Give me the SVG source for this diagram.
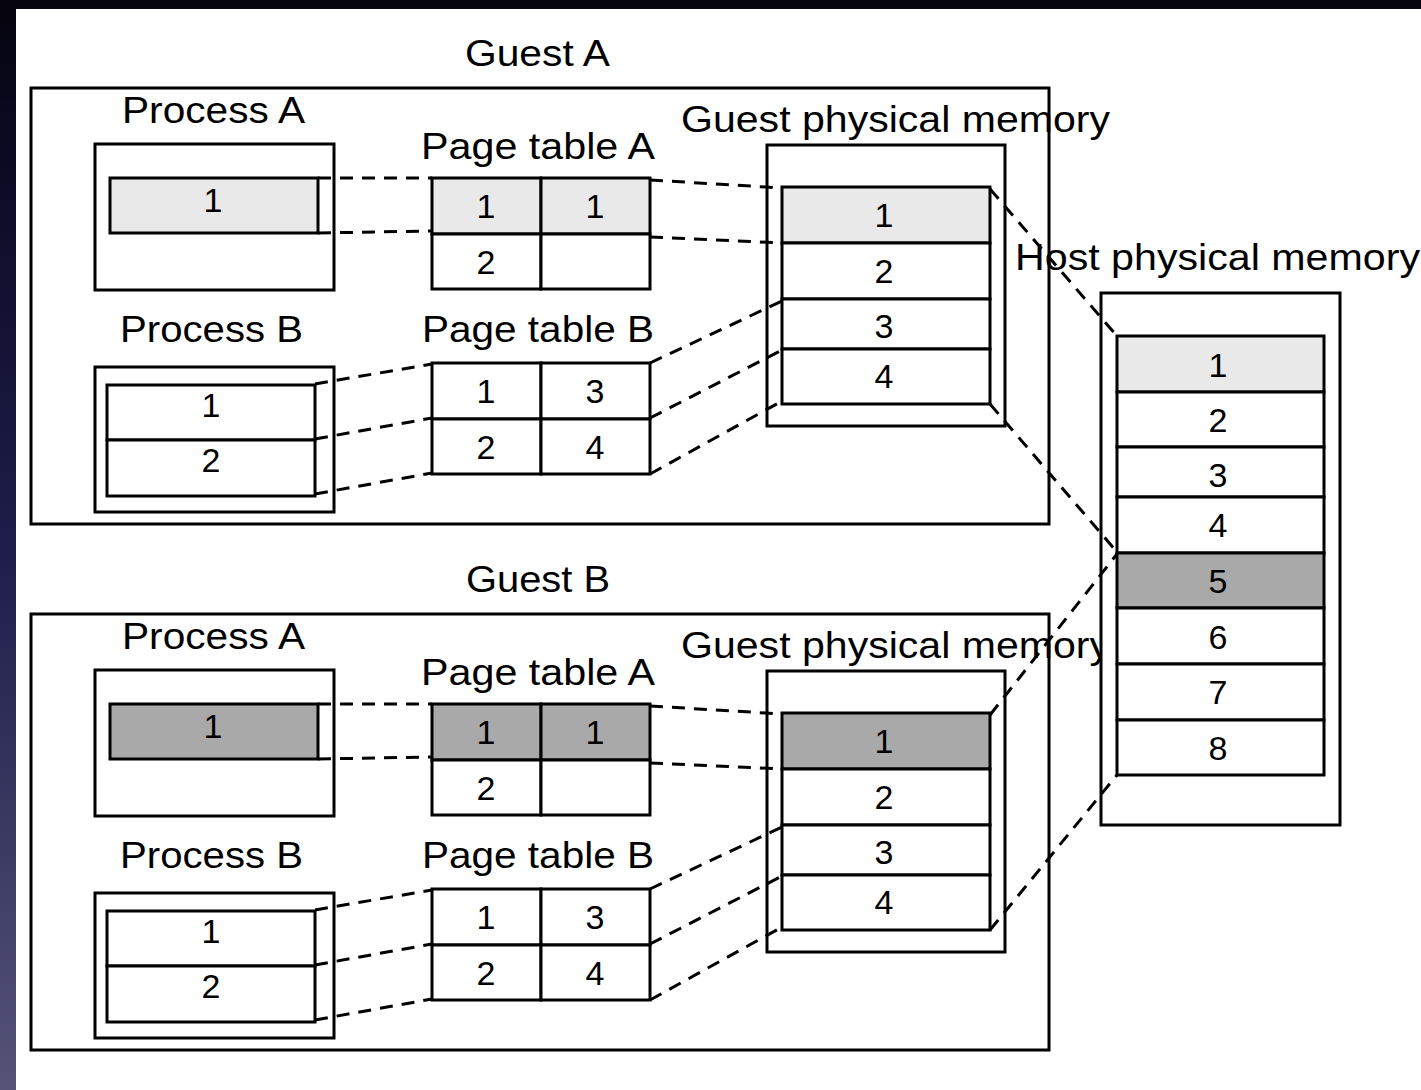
<svg xmlns="http://www.w3.org/2000/svg" width="1421" height="1090" viewBox="0 0 1421 1090">
  <defs>
    <linearGradient id="edge" x1="0" y1="0" x2="0" y2="1">
      <stop offset="0" stop-color="#05040d"/>
      <stop offset="0.12" stop-color="#0a0920"/>
      <stop offset="0.5" stop-color="#1e1d4a"/>
      <stop offset="1" stop-color="#555378"/>
    </linearGradient>
    <style>
      .box { fill: #ffffff; stroke: #000000; stroke-width: 3; }
      .frame { fill: none; stroke: #000000; stroke-width: 3; }
      .lt { fill: #e9e9e9; }
      .dk { fill: #a9a9a9; }
      .lbl { font-family: "Liberation Sans", Arial, sans-serif; font-size: 37px; fill: #000000; }
      .num { font-family: "Liberation Sans", Arial, sans-serif; font-size: 34px; fill: #000000; text-anchor: middle; }
      .dash { fill: none; stroke: #000000; stroke-width: 3; stroke-dasharray: 13 9; }
    </style>
  </defs>

  <!-- page backdrop with dark window edge -->
  <rect x="0" y="0" width="1421" height="1090" fill="#06050f"/>
  <rect x="0" y="0" width="16" height="1090" fill="url(#edge)"/>
  <rect x="16" y="9" width="1405" height="1081" fill="#ffffff"/>

  <!-- ===== Guest A ===== -->
  <g id="guest-a">
    <rect class="frame" x="31" y="88" width="1018" height="436"/>
    <text class="lbl" x="465" y="66" textLength="145" lengthAdjust="spacingAndGlyphs">Guest A</text>

    <g id="guest-a-process-a">
      <text class="lbl" x="122" y="123" textLength="183" lengthAdjust="spacingAndGlyphs">Process A</text>
      <rect class="box" x="95" y="144" width="239" height="146"/>
      <rect class="box lt" x="110" y="178" width="208" height="55"/>
      <text class="num" x="213" y="212">1</text>
    </g>

    <g id="guest-a-process-b">
      <text class="lbl" x="120" y="342" textLength="183" lengthAdjust="spacingAndGlyphs">Process B</text>
      <rect class="box" x="95" y="367" width="239" height="145"/>
      <rect class="box" x="107" y="385" width="208" height="55"/>
      <rect class="box" x="107" y="440" width="208" height="56"/>
      <text class="num" x="211" y="417">1</text>
      <text class="num" x="211" y="472">2</text>
    </g>

    <g id="guest-a-page-table-a">
      <text class="lbl" x="421" y="159" textLength="234" lengthAdjust="spacingAndGlyphs">Page table A</text>
      <rect class="box lt" x="432" y="178" width="109" height="56"/>
      <rect class="box lt" x="541" y="178" width="109" height="56"/>
      <rect class="box" x="432" y="234" width="109" height="55"/>
      <rect class="box" x="541" y="234" width="109" height="55"/>
      <text class="num" x="486" y="218">1</text>
      <text class="num" x="595" y="218">1</text>
      <text class="num" x="486" y="274">2</text>
    </g>

    <g id="guest-a-page-table-b">
      <text class="lbl" x="422" y="342" textLength="232" lengthAdjust="spacingAndGlyphs">Page table B</text>
      <rect class="box" x="432" y="363" width="109" height="56"/>
      <rect class="box" x="541" y="363" width="109" height="56"/>
      <rect class="box" x="432" y="419" width="109" height="55"/>
      <rect class="box" x="541" y="419" width="109" height="55"/>
      <text class="num" x="486" y="403">1</text>
      <text class="num" x="595" y="403">3</text>
      <text class="num" x="486" y="459">2</text>
      <text class="num" x="595" y="459">4</text>
    </g>

    <g id="guest-a-physical-memory">
      <text class="lbl" x="681" y="132" textLength="429" lengthAdjust="spacingAndGlyphs">Guest physical memory</text>
      <rect class="box" x="767" y="145" width="238" height="281"/>
      <rect class="box lt" x="782" y="187" width="208" height="56"/>
      <rect class="box" x="782" y="243" width="208" height="56"/>
      <rect class="box" x="782" y="299" width="208" height="50"/>
      <rect class="box" x="782" y="349" width="208" height="55"/>
      <text class="num" x="884" y="227">1</text>
      <text class="num" x="884" y="283">2</text>
      <text class="num" x="884" y="338">3</text>
      <text class="num" x="884" y="388">4</text>
    </g>
  </g>

  <!-- ===== Guest B (same layout, shifted down) ===== -->
  <g id="guest-b" transform="translate(0,526)">
    <rect class="frame" x="31" y="88" width="1018" height="436"/>
    <text class="lbl" x="466" y="66" textLength="144" lengthAdjust="spacingAndGlyphs">Guest B</text>

    <g id="guest-b-process-a">
      <text class="lbl" x="122" y="123" textLength="183" lengthAdjust="spacingAndGlyphs">Process A</text>
      <rect class="box" x="95" y="144" width="239" height="146"/>
      <rect class="box dk" x="110" y="178" width="208" height="55"/>
      <text class="num" x="213" y="212">1</text>
    </g>

    <g id="guest-b-process-b">
      <text class="lbl" x="120" y="342" textLength="183" lengthAdjust="spacingAndGlyphs">Process B</text>
      <rect class="box" x="95" y="367" width="239" height="145"/>
      <rect class="box" x="107" y="385" width="208" height="55"/>
      <rect class="box" x="107" y="440" width="208" height="56"/>
      <text class="num" x="211" y="417">1</text>
      <text class="num" x="211" y="472">2</text>
    </g>

    <g id="guest-b-page-table-a">
      <text class="lbl" x="421" y="159" textLength="234" lengthAdjust="spacingAndGlyphs">Page table A</text>
      <rect class="box dk" x="432" y="178" width="109" height="56"/>
      <rect class="box dk" x="541" y="178" width="109" height="56"/>
      <rect class="box" x="432" y="234" width="109" height="55"/>
      <rect class="box" x="541" y="234" width="109" height="55"/>
      <text class="num" x="486" y="218">1</text>
      <text class="num" x="595" y="218">1</text>
      <text class="num" x="486" y="274">2</text>
    </g>

    <g id="guest-b-page-table-b">
      <text class="lbl" x="422" y="342" textLength="232" lengthAdjust="spacingAndGlyphs">Page table B</text>
      <rect class="box" x="432" y="363" width="109" height="56"/>
      <rect class="box" x="541" y="363" width="109" height="56"/>
      <rect class="box" x="432" y="419" width="109" height="55"/>
      <rect class="box" x="541" y="419" width="109" height="55"/>
      <text class="num" x="486" y="403">1</text>
      <text class="num" x="595" y="403">3</text>
      <text class="num" x="486" y="459">2</text>
      <text class="num" x="595" y="459">4</text>
    </g>

    <g id="guest-b-physical-memory">
      <text class="lbl" x="681" y="132" textLength="429" lengthAdjust="spacingAndGlyphs">Guest physical memory</text>
      <rect class="box" x="767" y="145" width="238" height="281"/>
      <rect class="box dk" x="782" y="187" width="208" height="56"/>
      <rect class="box" x="782" y="243" width="208" height="56"/>
      <rect class="box" x="782" y="299" width="208" height="50"/>
      <rect class="box" x="782" y="349" width="208" height="55"/>
      <text class="num" x="884" y="227">1</text>
      <text class="num" x="884" y="283">2</text>
      <text class="num" x="884" y="338">3</text>
      <text class="num" x="884" y="388">4</text>
    </g>
  </g>

  <!-- ===== Host physical memory ===== -->
  <g id="host-physical-memory">
    <text class="lbl" x="1015" y="270" textLength="405" lengthAdjust="spacingAndGlyphs">Host physical memory</text>
    <rect class="box" x="1101" y="293" width="239" height="532"/>
    <rect class="box lt" x="1117" y="336" width="207" height="56"/>
    <rect class="box" x="1117" y="392" width="207" height="55"/>
    <rect class="box" x="1117" y="447" width="207" height="50"/>
    <rect class="box" x="1117" y="497" width="207" height="56"/>
    <rect class="box dk" x="1117" y="553" width="207" height="55"/>
    <rect class="box" x="1117" y="608" width="207" height="56"/>
    <rect class="box" x="1117" y="664" width="207" height="56"/>
    <rect class="box" x="1117" y="720" width="207" height="55"/>
    <text class="num" x="1218" y="377">1</text>
    <text class="num" x="1218" y="432">2</text>
    <text class="num" x="1218" y="487">3</text>
    <text class="num" x="1218" y="537">4</text>
    <text class="num" x="1218" y="593">5</text>
    <text class="num" x="1218" y="649">6</text>
    <text class="num" x="1218" y="704">7</text>
    <text class="num" x="1218" y="760">8</text>
  </g>

  <!-- ===== dashed mapping lines ===== -->
  <g id="connectors" class="dash">
    <!-- guest A: process A -> page table A -->
    <line x1="318" y1="178" x2="432" y2="178"/>
    <line x1="318" y1="233" x2="432" y2="231"/>
    <!-- guest A: page table A -> guest memory -->
    <line x1="650" y1="180" x2="782" y2="188"/>
    <line x1="650" y1="237" x2="782" y2="243"/>
    <!-- guest A: process B -> page table B -->
    <line x1="315" y1="384" x2="432" y2="364"/>
    <line x1="315" y1="439" x2="432" y2="418"/>
    <line x1="315" y1="494" x2="432" y2="473"/>
    <!-- guest A: page table B -> guest memory -->
    <line x1="650" y1="363" x2="782" y2="301"/>
    <line x1="650" y1="418" x2="782" y2="350"/>
    <line x1="650" y1="474" x2="782" y2="401"/>
    <!-- guest A memory -> host -->
    <line x1="990" y1="189" x2="1117" y2="336"/>
    <line x1="990" y1="404" x2="1117" y2="552"/>

    <!-- guest B: process A -> page table A -->
    <line x1="318" y1="704" x2="432" y2="704"/>
    <line x1="318" y1="759" x2="432" y2="757"/>
    <!-- guest B: page table A -> guest memory -->
    <line x1="650" y1="706" x2="782" y2="714"/>
    <line x1="650" y1="763" x2="782" y2="769"/>
    <!-- guest B: process B -> page table B -->
    <line x1="315" y1="910" x2="432" y2="890"/>
    <line x1="315" y1="965" x2="432" y2="944"/>
    <line x1="315" y1="1020" x2="432" y2="999"/>
    <!-- guest B: page table B -> guest memory -->
    <line x1="650" y1="889" x2="782" y2="827"/>
    <line x1="650" y1="944" x2="782" y2="876"/>
    <line x1="650" y1="1000" x2="782" y2="927"/>
    <!-- guest B memory -> host -->
    <line x1="990" y1="715" x2="1117" y2="554"/>
    <line x1="990" y1="930" x2="1117" y2="775"/>
  </g>
</svg>
